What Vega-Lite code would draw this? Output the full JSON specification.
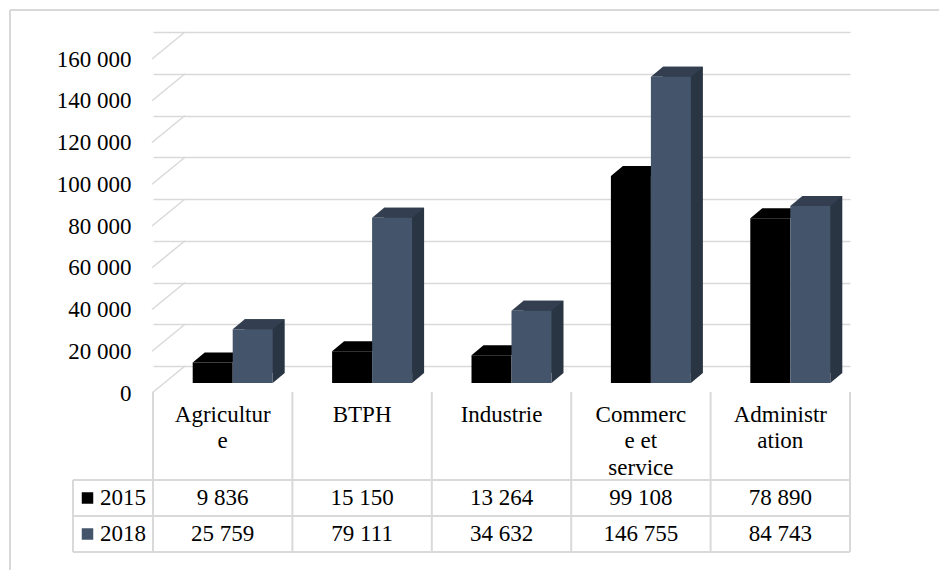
{
  "$schema": "https://vega.github.io/schema/vega-lite/v6.json",
  "autosize": {"type": "none"},
  "width": 700,
  "height": 334,
  "padding": {"left": 185, "top": 32, "right": 54, "bottom": 204},
  "background": "white",
  "config": {
    "font": "Liberation Serif",
    "view": {"stroke": null},
    "locale": {"number": {"decimal": ",", "thousands": " ", "grouping": [3], "currency": ["", ""]}}
  },
  "datasets": {
    "sectors": [
      {"sector": "Agriculture", "year": "2015", "value": 9836},
      {"sector": "Agriculture", "year": "2018", "value": 25759},
      {"sector": "BTPH", "year": "2015", "value": 15150},
      {"sector": "BTPH", "year": "2018", "value": 79111},
      {"sector": "Industrie", "year": "2015", "value": 13264},
      {"sector": "Industrie", "year": "2018", "value": 34632},
      {"sector": "Commerce et service", "year": "2015", "value": 99108},
      {"sector": "Commerce et service", "year": "2018", "value": 146755},
      {"sector": "Administration", "year": "2015", "value": 78890},
      {"sector": "Administration", "year": "2018", "value": 84743}
    ],
    "ticks": [
      {"v": 0}, {"v": 20000}, {"v": 40000}, {"v": 60000}, {"v": 80000},
      {"v": 100000}, {"v": 120000}, {"v": 140000}, {"v": 160000}
    ]
  },
  "data": {"name": "sectors"},
  "layer": [
    {
      "layer": [
        {
          "data": {"name": "ticks"},
          "mark": {"type": "point", "shape": "M-70.7,27L-37.7,0", "size": 4, "filled": false, "stroke": "#d9d9d9", "strokeWidth": 1.5, "opacity": 1},
          "encoding": {
            "x": {
              "datum": "Agriculture", "type": "nominal",
              "scale": {"type": "band", "domain": ["Agriculture", "BTPH", "Industrie", "Commerce et service", "Administration"], "range": [-32, 665], "paddingInner": 0, "paddingOuter": 0},
              "axis": {
                "orient": "bottom", "domain": false, "ticks": false, "tickSize": 0, "grid": false,
                "labelPadding": 37, "labelBaseline": "top", "labelAngle": 0,
                "labelFont": "Liberation Serif", "labelFontSize": 23, "labelColor": "#000000",
                "labelLineHeight": 26.5, "labelOverlap": false, "labelBound": false, "title": null,
                "labelExpr": "datum.value == 'Agriculture' ? ['Agricultur','e'] : datum.value == 'Commerce et service' ? ['Commerc','e et','service'] : datum.value == 'Administration' ? ['Administr','ation'] : datum.label"
              }
            },
            "y": {
              "field": "v", "type": "quantitative",
              "scale": {"domain": [0, 160000], "nice": false, "zero": true},
              "axis": {
                "values": [0, 20000, 40000, 60000, 80000, 100000, 120000, 140000, 160000],
                "format": ",.0f", "domain": false, "ticks": false, "tickSize": 0,
                "labelPadding": 54, "labelOffset": 27,
                "labelFont": "Liberation Serif", "labelFontSize": 23, "labelColor": "#000000",
                "grid": true, "gridColor": "#d9d9d9", "gridWidth": 1.5, "title": null
              }
            }
          }
        },
        {
          "transform": [{"filter": "datum.year == '2018'"}],
          "mark": {"type": "bar", "width": 40, "xOffset": 42, "yOffset": 7, "y2Offset": 7, "color": "#2a3543"},
          "encoding": {
            "x": {"field": "sector", "type": "nominal"},
            "y": {"field": "value", "type": "quantitative"}
          }
        },
        {
          "transform": [{"filter": "datum.year == '2018'"}],
          "mark": {"type": "point", "shape": "M20,0L20,-10L32,-10Z", "size": 4, "filled": true, "opacity": 1, "strokeWidth": 0, "color": "#2a3543", "xOffset": 30, "yOffset": 17},
          "encoding": {
            "x": {"field": "sector", "type": "nominal"},
            "y": {"datum": 0, "type": "quantitative"}
          }
        },
        {
          "transform": [{"filter": "datum.year == '2018'"}],
          "mark": {"type": "point", "shape": "M-20,0L20,0L32,-10L-8,-10Z", "size": 4, "filled": true, "opacity": 1, "strokeWidth": 0, "color": "#333f50", "xOffset": 30, "yOffset": 17},
          "encoding": {
            "x": {"field": "sector", "type": "nominal"},
            "y": {"field": "value", "type": "quantitative"}
          }
        },
        {
          "transform": [{"filter": "datum.year == '2015'"}],
          "mark": {"type": "point", "shape": "M-20,0L20,0L32,-10L-8,-10Z", "size": 4, "filled": true, "opacity": 1, "strokeWidth": 0, "color": "#000000", "xOffset": -10, "yOffset": 17},
          "encoding": {
            "x": {"field": "sector", "type": "nominal"},
            "y": {"field": "value", "type": "quantitative"}
          }
        },
        {
          "transform": [{"filter": "datum.year == '2015'"}],
          "mark": {"type": "bar", "width": 40, "xOffset": -10, "yOffset": 17, "y2Offset": 17, "color": "#000000"},
          "encoding": {
            "x": {"field": "sector", "type": "nominal"},
            "y": {"field": "value", "type": "quantitative"}
          }
        },
        {
          "transform": [{"filter": "datum.year == '2018'"}],
          "mark": {"type": "bar", "width": 40, "xOffset": 30, "yOffset": 17, "y2Offset": 17, "color": "#44546a"},
          "encoding": {
            "x": {"field": "sector", "type": "nominal"},
            "y": {"field": "value", "type": "quantitative"}
          }
        }
      ]
    },
    {
      "layer": [
        {
          "transform": [{"filter": "datum.sector == 'Agriculture' && datum.year == '2015'"}],
          "mark": {"type": "rule", "color": "#d9d9d9", "strokeWidth": 2, "xOffset": -143, "yOffset": -470, "y2Offset": 60},
          "encoding": {
            "x": {"field": "sector", "type": "nominal", "bandPosition": 0},
            "y": {"datum": "2015", "type": "nominal", "bandPosition": 0, "scale": {"type": "band", "domain": ["2015", "2018"], "range": [448, 520], "paddingInner": 0, "paddingOuter": 0}, "axis": null},
            "y2": {"datum": "2018", "bandPosition": 1}
          }
        },
        {
          "transform": [{"filter": "datum.sector == 'Agriculture' && datum.year == '2015'"}],
          "mark": {"type": "rule", "color": "#d9d9d9", "strokeWidth": 2, "xOffset": -143, "x2Offset": 100, "yOffset": -470},
          "encoding": {
            "x": {"field": "sector", "type": "nominal", "bandPosition": 0},
            "x2": {"datum": "Administration", "bandPosition": 1},
            "y": {"datum": "2015", "type": "nominal", "bandPosition": 0}
          }
        },
        {
          "transform": [{"filter": "datum.sector == 'Agriculture'"}],
          "mark": {"type": "rule", "color": "#d9d9d9", "strokeWidth": 2, "xOffset": -80},
          "encoding": {
            "x": {"field": "sector", "type": "nominal", "bandPosition": 0},
            "x2": {"datum": "Administration", "bandPosition": 1},
            "y": {"field": "year", "type": "nominal", "bandPosition": 0}
          }
        },
        {
          "transform": [{"filter": "datum.sector == 'Agriculture' && datum.year == '2018'"}],
          "mark": {"type": "rule", "color": "#d9d9d9", "strokeWidth": 2, "xOffset": -80},
          "encoding": {
            "x": {"field": "sector", "type": "nominal", "bandPosition": 0},
            "x2": {"datum": "Administration", "bandPosition": 1},
            "y": {"field": "year", "type": "nominal", "bandPosition": 1}
          }
        },
        {
          "transform": [{"filter": "datum.year == '2015'"}],
          "mark": {"type": "rule", "color": "#d9d9d9", "strokeWidth": 2, "yOffset": -88},
          "encoding": {
            "x": {"field": "sector", "type": "nominal", "bandPosition": 0},
            "y": {"datum": "2015", "type": "nominal", "bandPosition": 0},
            "y2": {"datum": "2018", "bandPosition": 1}
          }
        },
        {
          "transform": [{"filter": "datum.sector == 'Administration' && datum.year == '2015'"}],
          "mark": {"type": "rule", "color": "#d9d9d9", "strokeWidth": 2, "yOffset": -88},
          "encoding": {
            "x": {"field": "sector", "type": "nominal", "bandPosition": 1},
            "y": {"datum": "2015", "type": "nominal", "bandPosition": 0},
            "y2": {"datum": "2018", "bandPosition": 1}
          }
        },
        {
          "transform": [{"filter": "datum.sector == 'Agriculture' && datum.year == '2015'"}],
          "mark": {"type": "rule", "color": "#d9d9d9", "strokeWidth": 2, "xOffset": -80},
          "encoding": {
            "x": {"field": "sector", "type": "nominal", "bandPosition": 0},
            "y": {"datum": "2015", "type": "nominal", "bandPosition": 0},
            "y2": {"datum": "2018", "bandPosition": 1}
          }
        },
        {
          "mark": {"type": "text", "font": "Liberation Serif", "fontSize": 23, "color": "#000000"},
          "encoding": {
            "x": {"field": "sector", "type": "nominal"},
            "y": {"field": "year", "type": "nominal"},
            "text": {"field": "value", "type": "quantitative", "format": ",.0f"}
          }
        },
        {
          "transform": [{"filter": "datum.sector == 'Agriculture'"}],
          "mark": {"type": "point", "shape": "square", "size": 132, "filled": true, "opacity": 1, "strokeWidth": 0, "xOffset": -65.5},
          "encoding": {
            "x": {"field": "sector", "type": "nominal", "bandPosition": 0},
            "y": {"field": "year", "type": "nominal"},
            "color": {"condition": {"test": "datum.year == '2015'", "value": "#000000"}, "value": "#44546a"}
          }
        },
        {
          "transform": [{"filter": "datum.sector == 'Agriculture'"}],
          "mark": {"type": "text", "font": "Liberation Serif", "fontSize": 23, "color": "#000000", "align": "right", "xOffset": -7},
          "encoding": {
            "x": {"field": "sector", "type": "nominal", "bandPosition": 0},
            "y": {"field": "year", "type": "nominal"},
            "text": {"field": "year", "type": "nominal"}
          }
        }
      ]
    }
  ],
  "resolve": {"scale": {"y": "independent"}, "axis": {"y": "independent"}}
}
